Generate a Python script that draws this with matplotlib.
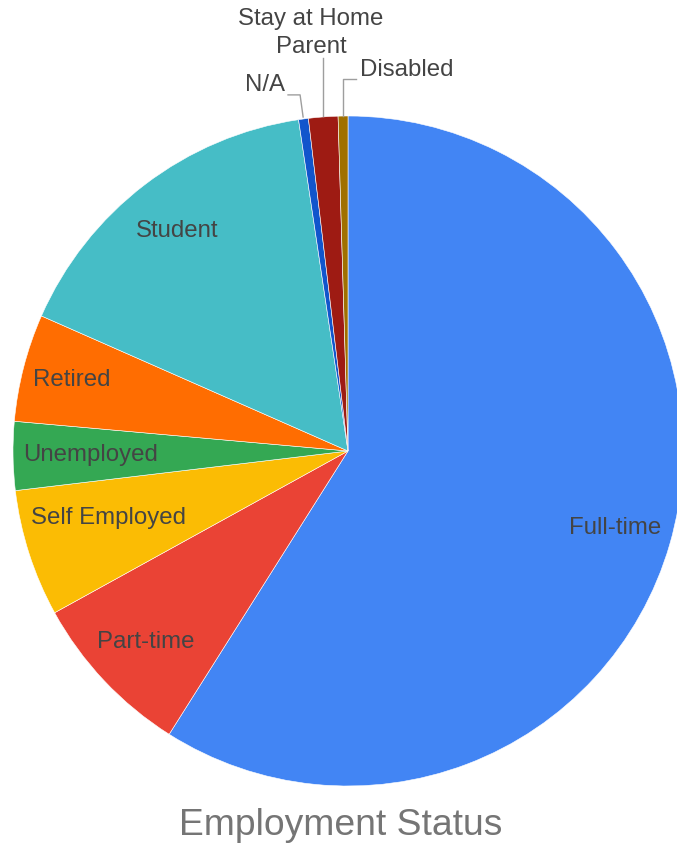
import matplotlib
matplotlib.use('Agg')
import matplotlib.pyplot as plt
import numpy as np

plt.rcParams['font.family'] = ['Liberation Sans', 'DejaVu Sans']

# Datos (conteos aproximados)
categorias = ['Full-time', 'Part-time', 'Self Employed', 'Unemployed', 'Retired',
              'Student', 'N/A', 'Stay at Home\nParent', 'Disabled']
cantidades = [125, 17, 13, 7, 11, 34, 1, 3, 1]
colores = ['#4285f4', '#ea4335', '#fbbc04', '#34a853', '#ff6d01',
           '#46bdc6', '#1155cc', '#9e1b13', '#a07000']

# distancia radial y ajuste vertical de las etiquetas internas
dist_etiquetas = [0.83, 0.83, 0.75, 0.77, 0.85, 0.84]
ajuste_y = [0, 0, 0.03, 0, 0, -0.01]

fig = plt.figure(figsize=(6.77, 8.47), dpi=100)
ax = fig.add_axes([13 / 677, 61 / 847, 670 / 677, 670 / 847])
wedges, _ = ax.pie(cantidades, colors=colores, startangle=90, counterclock=False,
                   wedgeprops=dict(edgecolor='white', linewidth=0.4))
ax.set_xlim(-1, 1)
ax.set_ylim(-1, 1)
ax.set_aspect('equal')
ax.axis('off')

tam = 17.3
texto = '#444444'

# etiquetas dentro de las porciones
for w, nombre, d, ay in zip(wedges[:6], categorias[:6], dist_etiquetas, ajuste_y):
    ang = np.deg2rad((w.theta1 + w.theta2) / 2)
    ax.text(d * np.cos(ang), d * np.sin(ang) + ay, nombre, ha='center', va='center',
            fontsize=tam, color=texto)

# etiquetas de las porciones pequeñas con líneas guía
gris = '#9e9e9e'
ax.text(-0.188, 1.093, 'N/A', ha='right', va='center', fontsize=tam, color=texto)
ax.plot([-0.179, -0.143, -0.134], [1.063, 1.063, 0.997], color=gris, lw=1, clip_on=False)

ax.text(-0.110, 1.248, categorias[7], ha='center', va='center', fontsize=tam,
        color=texto, linespacing=1.35)
ax.plot([-0.075, -0.075], [1.173, 1.0], color=gris, lw=1, clip_on=False)

ax.text(0.036, 1.137, 'Disabled', ha='left', va='center', fontsize=tam, color=texto)
ax.plot([0.024, -0.015, -0.015], [1.110, 1.110, 1.0], color=gris, lw=1, clip_on=False)

fig.text(341 / 677, 1 - 825 / 847, 'Employment Status', ha='center', va='center',
         fontsize=26.8, color='#757575')

fig.savefig('out.png', dpi=100)
